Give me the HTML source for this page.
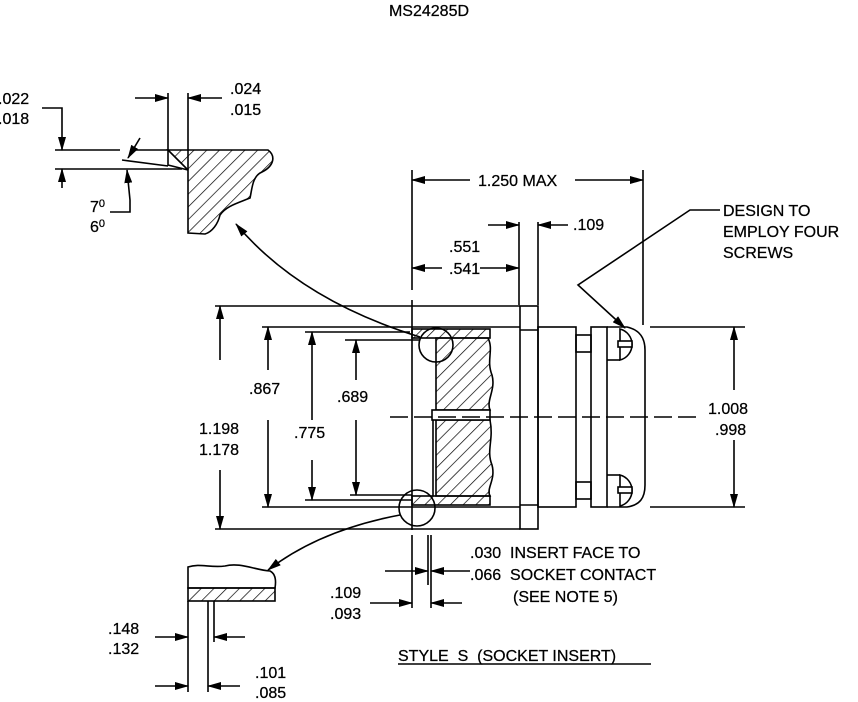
<!DOCTYPE html>
<html><head><meta charset="utf-8"><style>
html,body{margin:0;padding:0;background:#fff;}
svg{display:block}
text{font-family:"Liberation Sans",Arial,sans-serif;font-size:16px;fill:#000;stroke:#000;stroke-width:0.25}
</style></head><body>
<svg width="858" height="702" viewBox="0 0 858 702" xmlns="http://www.w3.org/2000/svg">
<defs>
<pattern id="h" width="9" height="9" patternUnits="userSpaceOnUse" patternTransform="rotate(45)">
<line x1="0" y1="0" x2="0" y2="9" stroke="#000" stroke-width="1.4"/></pattern>
<marker id="a" markerWidth="14" markerHeight="8" refX="13" refY="4" orient="auto" markerUnits="userSpaceOnUse">
<path d="M0,0 L14,4 L0,8 Z" fill="#000"/></marker>
</defs>
<text x="429" y="16" text-anchor="middle" font-size="15">MS24285D</text>

<g stroke="#000" stroke-width="1.6" fill="none">
<!-- top-left detail -->
<line x1="55" y1="150" x2="120" y2="150"/><line x1="130" y1="150" x2="168" y2="150"/>
<line x1="55" y1="169" x2="182" y2="169"/>
<path d="M168,150 L268,150 C276,156 274,166 262,172 C252,176 252,190 250,198 C238,203 226,206 220,215 C218,224 212,232 205,234 L188,233 L188,170 Z" fill="url(#h)"/>
<path d="M168,150 L168,165 L188,170"/>
<line x1="122" y1="160" x2="168" y2="166"/>
<line x1="168" y1="93" x2="168" y2="150"/><line x1="188" y1="93" x2="188" y2="170"/>
<line x1="135" y1="98" x2="168" y2="98" marker-end="url(#a)"/>
<line x1="222" y1="98" x2="188" y2="98" marker-end="url(#a)"/>
<polyline points="42,108 62,108 62,150" marker-end="url(#a)"/>
<line x1="62" y1="188" x2="62" y2="169" marker-end="url(#a)"/>
<polyline points="110,212 130,212 130,200 127,170" marker-end="url(#a)"/>
<line x1="140" y1="138" x2="128" y2="158" marker-end="url(#a)"/>

<!-- main dims top -->
<line x1="412" y1="170" x2="412" y2="290"/>
<line x1="643" y1="170" x2="643" y2="325"/>
<line x1="470" y1="180" x2="412" y2="180" marker-end="url(#a)"/>
<line x1="575" y1="180" x2="643" y2="180" marker-end="url(#a)"/>
<line x1="519" y1="222" x2="519" y2="305"/>
<line x1="538" y1="222" x2="538" y2="305"/>
<line x1="488" y1="225" x2="519" y2="225" marker-end="url(#a)"/>
<line x1="568" y1="225" x2="538" y2="225" marker-end="url(#a)"/>
<line x1="442" y1="268" x2="412" y2="268" marker-end="url(#a)"/>
<line x1="480" y1="268" x2="519" y2="268" marker-end="url(#a)"/>
<polyline points="720,210 690,210 578,285 625,328" marker-end="url(#a)"/>

<!-- body lines -->
<line x1="215" y1="306" x2="520" y2="306"/><line x1="215" y1="529" x2="520" y2="529"/>
<line x1="262" y1="327" x2="520" y2="327"/><line x1="262" y1="507" x2="520" y2="507"/>
<line x1="305" y1="332" x2="410" y2="332"/><line x1="345" y1="340" x2="420" y2="340"/>
<line x1="350" y1="495" x2="412" y2="495"/><line x1="305" y1="500" x2="412" y2="500"/>
<line x1="412" y1="300" x2="412" y2="530"/>
<!-- left dims -->
<line x1="220" y1="360" x2="220" y2="306" marker-end="url(#a)"/><line x1="220" y1="470" x2="220" y2="529" marker-end="url(#a)"/>
<line x1="268" y1="370" x2="268" y2="327" marker-end="url(#a)"/><line x1="268" y1="420" x2="268" y2="507" marker-end="url(#a)"/>
<line x1="312" y1="420" x2="312" y2="332" marker-end="url(#a)"/><line x1="312" y1="460" x2="312" y2="500" marker-end="url(#a)"/>
<line x1="356" y1="380" x2="356" y2="340" marker-end="url(#a)"/><line x1="356" y1="420" x2="356" y2="495" marker-end="url(#a)"/>

<!-- insert -->
<rect x="412" y="329" width="78" height="9" fill="url(#h)"/>
<rect x="412" y="496" width="78" height="9" fill="url(#h)"/>
<path d="M436,338 L488,338 C494,350 486,360 492,375 C496,390 486,400 490,410 L436,410 Z" fill="url(#h)"/>
<path d="M436,420 L490,420 C494,440 486,450 492,465 C496,480 486,488 490,496 L436,496 Z" fill="url(#h)"/>
<rect x="432" y="410" width="58" height="10" fill="#fff"/>
<line x1="433" y1="420" x2="433" y2="496"/>
<line x1="390" y1="417" x2="700" y2="417" stroke-dasharray="18,6"/>
<circle cx="436" cy="345" r="17"/><circle cx="417" cy="508" r="18"/>
<path d="M420,337 Q300,300 236,224" marker-end="url(#a)"/>
<path d="M400,515 Q320,530 268,570" marker-end="url(#a)"/>

<!-- flange -->
<rect x="520" y="306" width="18" height="223"/>
<line x1="520" y1="330" x2="538" y2="330"/><line x1="520" y1="505" x2="538" y2="505"/>
<rect x="538" y="327" width="38" height="180"/>
<rect x="576" y="335" width="15" height="17"/><rect x="576" y="482" width="15" height="17"/>
<rect x="591" y="327" width="16" height="180"/>
<path d="M607,327 L627,327 C640,330 645,338 645,350 L645,485 C645,498 640,505 627,507 L607,507"/>
<line x1="607" y1="360" x2="620" y2="360"/><line x1="607" y1="475" x2="620" y2="475"/>
<path d="M620,329 L620,360 A16,16 0 0 0 620,329 Z"/>
<path d="M620,475 L620,506 A16,16 0 0 0 620,475 Z"/>
<rect x="618" y="341" width="14" height="6" fill="#fff"/><rect x="618" y="487" width="14" height="6" fill="#fff"/>
<line x1="650" y1="327" x2="745" y2="327"/><line x1="650" y1="507" x2="745" y2="507"/>
<line x1="734" y1="390" x2="734" y2="327" marker-end="url(#a)"/>
<line x1="734" y1="440" x2="734" y2="507" marker-end="url(#a)"/>

<!-- bottom middle dims -->
<line x1="412" y1="535" x2="412" y2="608"/><line x1="428" y1="535" x2="428" y2="585"/><line x1="431" y1="535" x2="431" y2="608"/>
<line x1="385" y1="571" x2="428" y2="571" marker-end="url(#a)"/>
<line x1="470" y1="571" x2="431" y2="571" marker-end="url(#a)"/>
<line x1="370" y1="603" x2="412" y2="603" marker-end="url(#a)"/>
<line x1="462" y1="603" x2="431" y2="603" marker-end="url(#a)"/>

<!-- bottom-left detail -->
<path d="M188,567 C200,563 210,568 225,566 C240,562 255,570 270,571 C276,574 276,582 275,588 L188,588 Z"/>
<rect x="188" y="588" width="87" height="13" fill="url(#h)"/>
<line x1="188" y1="601" x2="188" y2="692"/><line x1="208" y1="601" x2="208" y2="692"/><line x1="214" y1="601" x2="214" y2="642"/>
<line x1="155" y1="637" x2="188" y2="637" marker-end="url(#a)"/>
<line x1="245" y1="637" x2="214" y2="637" marker-end="url(#a)"/>
<line x1="155" y1="686" x2="188" y2="686" marker-end="url(#a)"/>
<line x1="240" y1="686" x2="208" y2="686" marker-end="url(#a)"/>
<line x1="398" y1="664" x2="651" y2="664"/>
</g>

<g>
<text x="-2" y="104">.022</text><text x="-2" y="124">.018</text>
<text x="230" y="94">.024</text><text x="230" y="115">.015</text>
<text x="90" y="212">7<tspan font-size="11" dy="-5">0</tspan></text>
<text x="90" y="232">6<tspan font-size="11" dy="-5">0</tspan></text>
<text x="478" y="186">1.250 MAX</text>
<text x="573" y="230">.109</text>
<text x="449" y="252">.551</text><text x="449" y="274">.541</text>
<text x="723" y="216">DESIGN TO</text><text x="723" y="237">EMPLOY FOUR</text><text x="723" y="258">SCREWS</text>
<text x="249" y="394">.867</text><text x="337" y="402">.689</text>
<text x="294" y="438">.775</text>
<text x="199" y="434">1.198</text><text x="199" y="455">1.178</text>
<text x="708" y="414">1.008</text><text x="715" y="435">.998</text>
<text x="470" y="558">.030&#160; INSERT FACE TO</text>
<text x="470" y="580">.066&#160; SOCKET CONTACT</text>
<text x="513" y="602">(SEE NOTE 5)</text>
<text x="330" y="598">.109</text><text x="330" y="619">.093</text>
<text x="108" y="634">.148</text><text x="108" y="654">.132</text>
<text x="255" y="678">.101</text><text x="255" y="698">.085</text>
<text x="398" y="661">STYLE&#160; S&#160; (SOCKET INSERT)</text>
</g>
</svg>
</body></html>
